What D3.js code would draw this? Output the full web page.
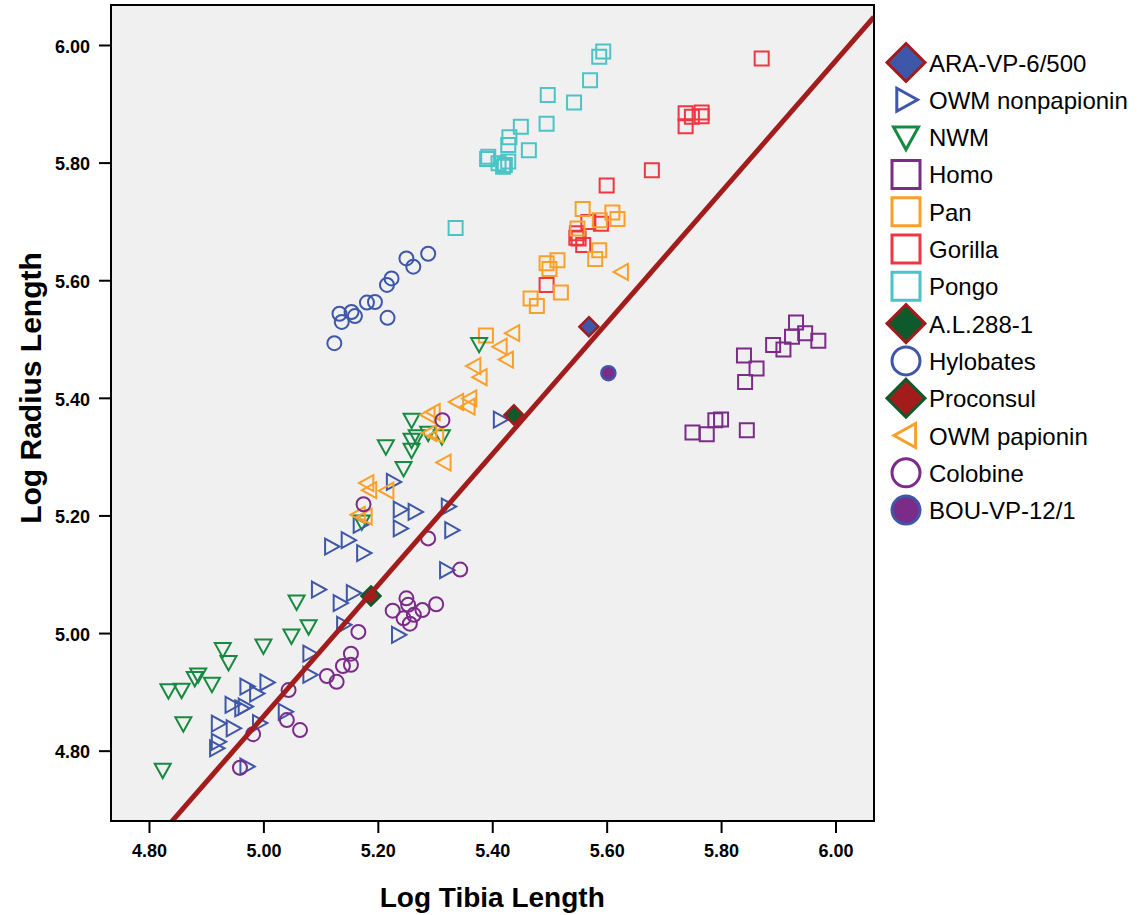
<!DOCTYPE html>
<html>
<head>
<meta charset="utf-8">
<script src="https://cdn.jsdelivr.net/npm/d3@7"></script>
<style>
  body { margin: 0; background: #fff; }
  svg text { font-family: "Liberation Sans", Arial, sans-serif; }
</style>
</head>
<body>
<svg id="chart" width="1146" height="915"></svg>
<script>
// [log tibia, log radius]
const pongo = [[5.594,5.989],[5.587,5.980],[5.571,5.940],[5.497,5.915],[5.543,5.902],[5.450,5.861],[5.495,5.866],
  [5.430,5.843],[5.428,5.830],[5.464,5.821],[5.393,5.810],[5.391,5.806],[5.411,5.799],[5.422,5.796],[5.428,5.802],
  [5.419,5.793],[5.336,5.689]];
const gorilla = [[5.871,5.977],[5.738,5.884],[5.749,5.878],[5.766,5.885],[5.766,5.879],[5.738,5.862],[5.679,5.787],
  [5.600,5.761],[5.568,5.699],[5.590,5.696],[5.548,5.680],[5.551,5.671],[5.559,5.660],[5.547,5.672],[5.495,5.592]];
const pan = [[5.558,5.721],[5.610,5.715],[5.619,5.704],[5.588,5.702],[5.549,5.688],[5.587,5.651],[5.580,5.636],
  [5.495,5.629],[5.514,5.634],[5.500,5.619],[5.520,5.579],[5.467,5.569],[5.478,5.556],[5.389,5.506]];
const homo = [[5.931,5.528],[5.947,5.510],[5.924,5.504],[5.970,5.497],[5.891,5.490],[5.909,5.482],[5.840,5.472],
  [5.862,5.450],[5.842,5.427],[5.800,5.363],[5.790,5.362],[5.845,5.345],[5.750,5.341],[5.775,5.338]];
const hylobates = [[5.288,5.645],[5.250,5.637],[5.262,5.623],[5.224,5.603],[5.216,5.592],[5.195,5.563],[5.181,5.562],
  [5.154,5.546],[5.160,5.539],[5.133,5.543],[5.137,5.529],[5.217,5.536],[5.124,5.493]];
const nwm = [[5.377,5.491],[5.259,5.362],[5.214,5.317],[5.245,5.280],[5.312,5.334],[5.259,5.328],[5.268,5.334],
  [5.259,5.311],[5.288,5.340],[5.172,5.189],[5.058,5.053],[5.079,5.011],[5.049,4.995],[5.000,4.978],[4.929,4.972],
  [4.939,4.950],[4.886,4.929],[4.880,4.923],[4.910,4.913],[4.834,4.902],[4.857,4.903],[4.860,4.846],[4.824,4.767]];
const owmNonpap = [[5.414,5.363],[5.323,5.215],[5.329,5.175],[5.227,5.257],[5.239,5.210],[5.265,5.206],[5.239,5.178],
  [5.169,5.184],[5.148,5.158],[5.119,5.147],[5.175,5.136],[5.320,5.107],[5.096,5.074],[5.157,5.068],[5.134,5.051],
  [5.140,5.014],[5.236,4.997],[5.081,4.965],[5.081,4.929],[5.006,4.916],[4.971,4.909],[4.988,4.897],[4.945,4.878],
  [4.968,4.875],[4.962,4.872],[5.038,4.866],[4.993,4.847],[4.947,4.838],[4.921,4.846],[4.921,4.815],[4.918,4.804],
  [4.971,4.773]];
const owmPap = [[5.626,5.614],[5.436,5.510],[5.414,5.487],[5.425,5.465],[5.368,5.454],[5.379,5.435],[5.338,5.393],
  [5.361,5.399],[5.358,5.385],[5.288,5.371],[5.297,5.376],[5.291,5.340],[5.303,5.337],[5.316,5.290],[5.181,5.255],
  [5.186,5.243],[5.216,5.242],[5.166,5.201],[5.178,5.198]];
const colobine = [[5.313,5.362],[5.288,5.161],[5.175,5.219],[5.344,5.108],[5.250,5.059],[5.253,5.048],[5.302,5.049],
  [5.226,5.038],[5.278,5.039],[5.263,5.031],[5.245,5.025],[5.256,5.016],[5.166,5.002],[5.153,4.965],[5.153,4.946],
  [5.139,4.944],[5.111,4.927],[5.128,4.917],[5.044,4.903],[5.041,4.852],[5.064,4.835],[4.982,4.828],[4.959,4.771]];
const araVP = [[5.569,5.521]];
const bouVP = [[5.603,5.442]];
const al288 = [[5.438,5.371]];
const proconsul = [[5.188,5.063]];

// regression line: radius = slope * tibia + intercept
const fitSlope = 1.1145;
const fitIntercept = -0.7144;

const xTicks = [4.8, 5.0, 5.2, 5.4, 5.6, 5.8, 6.0];
const yTicks = [4.8, 5.0, 5.2, 5.4, 5.6, 5.8, 6.0];

const legendNames = ['ARA-VP-6/500', 'OWM nonpapionin', 'NWM', 'Homo', 'Pan', 'Gorilla', 'Pongo',
  'A.L.288-1', 'Hylobates', 'Proconsul', 'OWM papionin', 'Colobine', 'BOU-VP-12/1'];

const blue = '#3e57a8', green = '#168a40', purple = '#7b2b88', orange = '#f9a02a',
      red = '#ee3742', teal = '#4cc3c7', darkRed = '#a21c1c', darkGreen = '#0e5a2c';

const styles = {
  'ARA-VP-6/500':    { shape: 'diamond', stroke: darkRed, fill: blue, data: araVP },
  'OWM nonpapionin': { shape: 'triRight', stroke: blue, fill: 'none', data: owmNonpap },
  'NWM':             { shape: 'triDown', stroke: green, fill: 'none', data: nwm },
  'Homo':            { shape: 'square', stroke: purple, fill: 'none', data: homo },
  'Pan':             { shape: 'square', stroke: orange, fill: 'none', data: pan },
  'Gorilla':         { shape: 'square', stroke: red, fill: 'none', data: gorilla },
  'Pongo':           { shape: 'square', stroke: teal, fill: 'none', data: pongo },
  'A.L.288-1':       { shape: 'diamond', stroke: darkRed, fill: darkGreen, data: al288 },
  'Hylobates':       { shape: 'circle', stroke: blue, fill: 'none', data: hylobates },
  'Proconsul':       { shape: 'diamond', stroke: darkGreen, fill: darkRed, data: proconsul },
  'OWM papionin':    { shape: 'triLeft', stroke: orange, fill: 'none', data: owmPap },
  'Colobine':        { shape: 'circle', stroke: purple, fill: 'none', data: colobine },
  'BOU-VP-12/1':     { shape: 'circle', stroke: blue, fill: purple, data: bouVP }
};
const drawOrder = ['Pongo', 'Gorilla', 'Pan', 'Homo', 'Hylobates', 'NWM', 'OWM nonpapionin', 'OWM papionin',
  'Colobine', 'ARA-VP-6/500', 'BOU-VP-12/1', 'A.L.288-1', 'Proconsul'];

// s = half size of the marker
function shapePath(shape, s) {
  switch (shape) {
    case 'square': return `M${-s},${-s}H${s}V${s}H${-s}Z`;
    case 'diamond': return `M0,${-s}L${s},0L0,${s}L${-s},0Z`;
    case 'triRight': return `M${-s * 0.8},${-s}L${s},0L${-s * 0.8},${s}Z`;
    case 'triLeft': return `M${s * 0.8},${-s}L${-s},0L${s * 0.8},${s}Z`;
    case 'triDown': return `M${-s},${-s * 0.8}H${s}L0,${s}Z`;
    case 'circle': return `M${s},0A${s},${s} 0 1,1 ${-s},0A${s},${s} 0 1,1 ${s},0Z`;
  }
}
const plotSize = { square: 7, diamond: 9.5, triRight: 8, triLeft: 8, triDown: 8, circle: 7 };
const legendSize = { square: 14, diamond: 19, triRight: 11.5, triLeft: 12, triDown: 12.5, circle: 14 };

const svg = d3.select('#chart');
const margin = { top: 5, right: 272, bottom: 94, left: 111 };
const width = +svg.attr('width') - margin.left - margin.right;
const height = +svg.attr('height') - margin.top - margin.bottom;
const g = svg.append('g').attr('transform', `translate(${margin.left},${margin.top})`);

const x = d3.scaleLinear().domain([4.7336, 6.0673]).range([0, width]);
const y = d3.scaleLinear().domain([4.6804, 6.068]).range([height, 0]);

g.append('rect').attr('width', width).attr('height', height).attr('fill', '#f0f0f0');

g.append('clipPath').attr('id', 'plot-clip')
  .append('rect').attr('width', width).attr('height', height);

const pts = g.append('g').attr('clip-path', 'url(#plot-clip)');
drawOrder.forEach(name => {
  const st = styles[name];
  pts.selectAll(null)
    .data(st.data)
    .join('path')
    .attr('transform', d => `translate(${x(d[0])},${y(d[1])})`)
    .attr('d', shapePath(st.shape, plotSize[st.shape]))
    .attr('fill', st.fill)
    .attr('stroke', st.stroke)
    .attr('stroke-width', st.fill === 'none' ? 2 : 2.5);
});

const fitLine = d3.line().x(d => x(d)).y(d => y(fitSlope * d + fitIntercept));
pts.append('path')
  .datum(x.domain())
  .attr('d', fitLine)
  .attr('fill', 'none')
  .attr('stroke', darkRed)
  .attr('stroke-width', 5);

g.append('rect').attr('width', width).attr('height', height)
  .attr('fill', 'none').attr('stroke', '#000').attr('stroke-width', 2);

const xAxis = g.append('g').attr('transform', `translate(0,${height})`)
  .call(d3.axisBottom(x).tickValues(xTicks).tickFormat(d3.format('.2f')).tickSize(12).tickSizeOuter(0));
const yAxis = g.append('g')
  .call(d3.axisLeft(y).tickValues(yTicks).tickFormat(d3.format('.2f')).tickSize(12).tickSizeOuter(0));

[xAxis, yAxis].forEach(ax => {
  ax.select('.domain').remove();
  ax.selectAll('.tick line').attr('stroke', '#000').attr('stroke-width', 2);
  ax.selectAll('.tick text')
    .attr('fill', '#000')
    .style('font-size', '18px')
    .style('font-weight', 'bold')
    .style('font-family', '"Liberation Sans", Arial, sans-serif');
});
xAxis.selectAll('.tick text').attr('y', 23);
yAxis.selectAll('.tick text').attr('x', -21).attr('dy', '0.4em');

svg.append('text')
  .attr('x', margin.left + x(5.4))
  .attr('y', 907)
  .attr('text-anchor', 'middle')
  .style('font-size', '28px')
  .style('font-weight', 'bold')
  .text('Log Tibia Length');

svg.append('text')
  .attr('transform', `translate(41,388) rotate(-90)`)
  .attr('text-anchor', 'middle')
  .style('font-size', '30px')
  .style('font-weight', 'bold')
  .text('Log Radius Length');

// legend
const legend = svg.append('g').attr('transform', 'translate(906,62.5)');
const rows = legend.selectAll('g')
  .data(legendNames)
  .join('g')
  .attr('transform', (d, i) => `translate(0,${i * 37.3})`);
rows.append('path')
  .attr('d', d => shapePath(styles[d].shape, legendSize[styles[d].shape]))
  .attr('fill', d => styles[d].fill)
  .attr('stroke', d => styles[d].stroke)
  .attr('stroke-width', 3);
rows.append('text')
  .attr('x', 23)
  .attr('y', 9)
  .style('font-size', '24px')
  .attr('fill', '#000')
  .text(d => d);
</script>
</body>
</html>
